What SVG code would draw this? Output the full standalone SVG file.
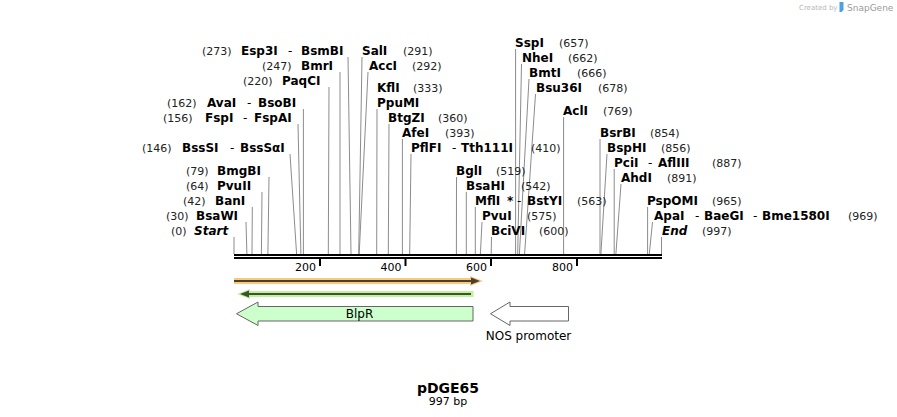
<svg xmlns="http://www.w3.org/2000/svg" width="897" height="417" viewBox="0 0 897 417">
<style>
text{font-family:"DejaVu Sans",Verdana,"Liberation Sans",sans-serif;fill:#000}
.b{font-weight:bold;font-size:12px}
.i{font-weight:bold;font-style:italic;font-size:12px}
.p{font-size:11px;fill:#222}
.h{font-size:12px}
.c line{stroke:#8c8c8c;stroke-width:1}
.r{font-size:11px;text-anchor:end}
.f{font-size:12px;text-anchor:middle}
.arrow{stroke:#666;stroke-width:1}
</style>
<rect width="897" height="417" fill="#fff"/>

<g id="logo">
<text x="799" y="10" style="font-size:7px;fill:#b8b8b8">Created by</text>
<path d="M839.5,2 h4 v8 l-2,2 h-2 z" fill="#4aa3df"/>
<text x="847" y="11" style="font-size:9px;fill:#9a9a9a">SnapGene</text>
</g>

<g id="connectors" class="c">
<line x1="348" y1="57" x2="351" y2="254"/>
<line x1="340" y1="72" x2="340" y2="254"/>
<line x1="329" y1="87" x2="328.3" y2="254"/>
<line x1="303.4" y1="109" x2="303.4" y2="254"/>
<line x1="298" y1="124" x2="300.9" y2="254"/>
<line x1="290" y1="154" x2="296.6" y2="254"/>
<line x1="269" y1="177" x2="267.9" y2="254"/>
<line x1="262" y1="192" x2="261.4" y2="254"/>
<line x1="252.3" y1="207" x2="252" y2="254"/>
<line x1="246" y1="222" x2="246.9" y2="254"/>
<line x1="234" y1="237" x2="234" y2="254"/>
<line x1="362" y1="57" x2="358.7" y2="254"/>
<line x1="368" y1="72" x2="359.2" y2="254"/>
<line x1="377" y1="109" x2="376.7" y2="254"/>
<line x1="389" y1="124" x2="388.3" y2="254"/>
<line x1="402.4" y1="139" x2="402.4" y2="254"/>
<line x1="411" y1="154" x2="409.7" y2="254"/>
<line x1="456.5" y1="177" x2="456.4" y2="254"/>
<line x1="466.3" y1="192" x2="466.3" y2="254"/>
<line x1="475.3" y1="207" x2="475.3" y2="254"/>
<line x1="482" y1="222" x2="480.4" y2="254"/>
<line x1="491.5" y1="237" x2="491.2" y2="254"/>
<line x1="515.6" y1="49" x2="515.6" y2="254"/>
<line x1="521.5" y1="64" x2="517.7" y2="254"/>
<line x1="529" y1="79" x2="519.4" y2="254"/>
<line x1="535.5" y1="94" x2="524.6" y2="254"/>
<line x1="563.6" y1="117" x2="563.6" y2="254"/>
<line x1="600" y1="139" x2="600" y2="254"/>
<line x1="607" y1="154" x2="600.9" y2="254"/>
<line x1="614.2" y1="169" x2="614.2" y2="254"/>
<line x1="621" y1="184" x2="615.9" y2="254"/>
<line x1="647.6" y1="207" x2="647.6" y2="254"/>
<line x1="652.5" y1="222" x2="649.3" y2="254"/>
<line x1="661.5" y1="237" x2="661.5" y2="254"/>
</g>

<g id="n-esp3i"><text y="55"><tspan class="p" x="202">(273)</tspan><tspan class="b" x="241">Esp3I</tspan><tspan class="h" x="288">-</tspan><tspan class="b" x="301">BsmBI</tspan></text></g>
<g id="n-bmri"><text y="70"><tspan class="p" x="262">(247)</tspan><tspan class="b" x="301">BmrI</tspan></text></g>
<g id="n-paqci"><text y="85"><tspan class="p" x="243">(220)</tspan><tspan class="b" x="282">PaqCI</tspan></text></g>
<g id="n-avai"><text y="107"><tspan class="p" x="167">(162)</tspan><tspan class="b" x="207">AvaI</tspan><tspan class="h" x="247">-</tspan><tspan class="b" x="258">BsoBI</tspan></text></g>
<g id="n-fspi"><text y="122"><tspan class="p" x="163">(156)</tspan><tspan class="b" x="205">FspI</tspan><tspan class="h" x="243">-</tspan><tspan class="b" x="254">FspAI</tspan></text></g>
<g id="n-bsssi"><text y="152"><tspan class="p" x="142">(146)</tspan><tspan class="b" x="182">BssSI</tspan><tspan class="h" x="230">-</tspan><tspan class="b" x="240">BssSαI</tspan></text></g>
<g id="n-bmgbi"><text y="175"><tspan class="p" x="186">(79)</tspan><tspan class="b" x="217">BmgBI</tspan></text></g>
<g id="n-pvuii"><text y="190"><tspan class="p" x="186">(64)</tspan><tspan class="b" x="217">PvuII</tspan></text></g>
<g id="n-bani"><text y="205"><tspan class="p" x="183">(42)</tspan><tspan class="b" x="215">BanI</tspan></text></g>
<g id="n-bsawi"><text y="220"><tspan class="p" x="166">(30)</tspan><tspan class="b" x="196">BsaWI</tspan></text></g>
<g id="n-start"><text y="235"><tspan class="p" x="171">(0)</tspan><tspan class="i" x="194">Start</tspan></text></g>

<g id="n-sali"><text y="55"><tspan class="b" x="362">SalI</tspan><tspan class="p" x="403">(291)</tspan></text></g>
<g id="n-acci"><text y="70"><tspan class="b" x="369">AccI</tspan><tspan class="p" x="412">(292)</tspan></text></g>
<g id="n-kfli"><text y="92"><tspan class="b" x="377">KflI</tspan><tspan class="p" x="413">(333)</tspan></text></g>
<g id="n-ppumi"><text y="107"><tspan class="b" x="377">PpuMI</tspan></text></g>
<g id="n-btgzi"><text y="122"><tspan class="b" x="388">BtgZI</tspan><tspan class="p" x="438">(360)</tspan></text></g>
<g id="n-afei"><text y="137"><tspan class="b" x="402">AfeI</tspan><tspan class="p" x="445">(393)</tspan></text></g>
<g id="n-pflfi"><text y="152"><tspan class="b" x="411">PflFI</tspan><tspan class="h" x="452">-</tspan><tspan class="b" x="461">Tth111I</tspan><tspan class="p" x="531">(410)</tspan></text></g>
<g id="n-bgli"><text y="175"><tspan class="b" x="456">BglI</tspan><tspan class="p" x="496">(519)</tspan></text></g>
<g id="n-bsahi"><text y="190"><tspan class="b" x="466">BsaHI</tspan><tspan class="p" x="521">(542)</tspan></text></g>
<g id="n-mfli"><text y="205"><tspan class="b" x="475">MflI</tspan><tspan class="b" x="507">*</tspan><tspan class="h" x="517">-</tspan><tspan class="b" x="527">BstYI</tspan><tspan class="p" x="577">(563)</tspan></text></g>
<g id="n-pvui"><text y="220"><tspan class="b" x="482">PvuI</tspan><tspan class="p" x="527">(575)</tspan></text></g>
<g id="n-bcivi"><text y="235"><tspan class="b" x="491">BciVI</tspan><tspan class="p" x="539">(600)</tspan></text></g>

<g id="n-sspi"><text y="47"><tspan class="b" x="515">SspI</tspan><tspan class="p" x="559">(657)</tspan></text></g>
<g id="n-nhei"><text y="62"><tspan class="b" x="522">NheI</tspan><tspan class="p" x="568">(662)</tspan></text></g>
<g id="n-bmti"><text y="77"><tspan class="b" x="529">BmtI</tspan><tspan class="p" x="577">(666)</tspan></text></g>
<g id="n-bsu36i"><text y="92"><tspan class="b" x="536">Bsu36I</tspan><tspan class="p" x="598">(678)</tspan></text></g>
<g id="n-acli"><text y="115"><tspan class="b" x="563">AclI</tspan><tspan class="p" x="603">(769)</tspan></text></g>
<g id="n-bsrbi"><text y="137"><tspan class="b" x="600">BsrBI</tspan><tspan class="p" x="650">(854)</tspan></text></g>
<g id="n-bsphi"><text y="152"><tspan class="b" x="607">BspHI</tspan><tspan class="p" x="661">(856)</tspan></text></g>
<g id="n-pcii"><text y="167"><tspan class="b" x="614">PciI</tspan><tspan class="h" x="648">-</tspan><tspan class="b" x="658">AflIII</tspan><tspan class="p" x="712">(887)</tspan></text></g>
<g id="n-ahdi"><text y="182"><tspan class="b" x="621">AhdI</tspan><tspan class="p" x="667">(891)</tspan></text></g>
<g id="n-pspomi"><text y="205"><tspan class="b" x="647">PspOMI</tspan><tspan class="p" x="712">(965)</tspan></text></g>
<g id="n-apai"><text y="220"><tspan class="b" x="654">ApaI</tspan><tspan class="h" x="695">-</tspan><tspan class="b" x="704">BaeGI</tspan><tspan class="h" x="753">-</tspan><tspan class="b" x="762">Bme1580I</tspan><tspan class="p" x="848">(969)</tspan></text></g>
<g id="n-end"><text y="235"><tspan class="i" x="662">End</tspan><tspan class="p" x="702">(997)</tspan></text></g>

<g id="ruler">
<rect x="234" y="254" width="428" height="2" fill="#000"/>
<rect x="234" y="257" width="428" height="2" fill="#000"/>
<rect x="319" y="259" width="2" height="7" fill="#000"/>
<rect x="404.5" y="259" width="2" height="7" fill="#000"/>
<rect x="490" y="259" width="2" height="7" fill="#000"/>
<rect x="576" y="259" width="2" height="7" fill="#000"/>
<text class="r" x="316" y="271">200</text>
<text class="r" x="401.5" y="271">400</text>
<text class="r" x="487" y="271">600</text>
<text class="r" x="573" y="271">800</text>
</g>

<g id="orf-fwd">
<line x1="234" y1="281" x2="474" y2="281" stroke="#fbc97c" stroke-width="6"/>
<polygon points="470,276 483,281 470,286" fill="#fbc97c"/>
<line x1="234" y1="281" x2="472" y2="281" stroke="#4a4030" stroke-width="2"/>
<polygon points="471,277.5 480,281 471,284.5" fill="#4a4030"/>
</g>
<g id="orf-rev">
<line x1="247" y1="294" x2="473.5" y2="294" stroke="#bff29a" stroke-width="6"/>
<polygon points="250,289 237,294 250,299" fill="#bff29a"/>
<line x1="242" y1="294" x2="471" y2="294" stroke="#3c5230" stroke-width="2"/>
<polygon points="249,290.5 240,294 249,297.5" fill="#3c5230"/>
</g>

<g id="blpr">
<polygon class="arrow" points="473,306.5 258,306.5 258,302 236.5,313.75 258,325.5 258,321 473,321" fill="#ccffcc"/>
<text class="f" x="359.5" y="318">BlpR</text>
</g>
<g id="nos">
<polygon class="arrow" points="568.5,306.5 510,306.5 510,302 490.5,313.75 510,325.5 510,321 568.5,321" fill="#fff"/>
<text class="f" x="528.5" y="340">NOS promoter</text>
</g>

<g id="title">
<text x="448" y="393" style="font-size:14px;font-weight:bold;text-anchor:middle">pDGE65</text>
<text x="448" y="405" style="font-size:11px;text-anchor:middle">997 bp</text>
</g>
</svg>
